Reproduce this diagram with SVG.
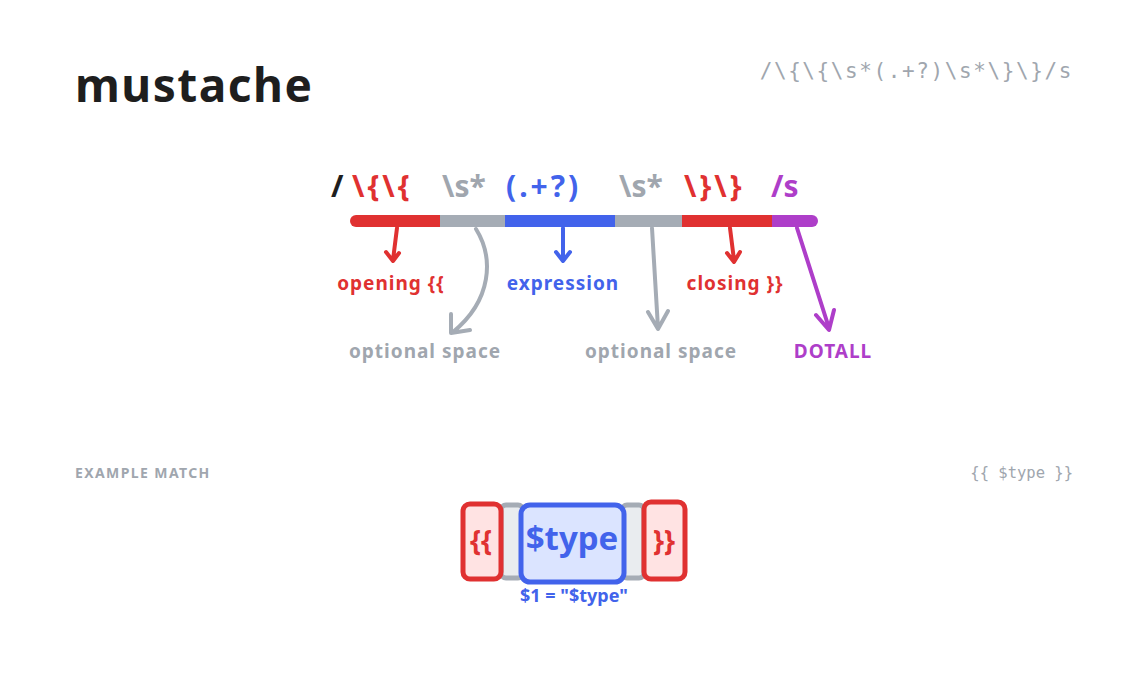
<svg xmlns="http://www.w3.org/2000/svg" width="1148" height="676" viewBox="0 0 1148 676">
<style>
.hand{font-family:"Noto Sans","Liberation Sans",sans-serif;font-weight:700}
.mono{font-family:"DejaVu Sans Mono","Liberation Mono",monospace;fill:#a0a6ae}
.tok{font-size:30px}
.lbl{font-size:19px;text-anchor:middle;letter-spacing:1px}
.red{fill:#e03131}.redS{stroke:#e03131}
.gray{fill:#a0a6ae}.grayS{stroke:#a5acb5}
.blue{fill:#4263eb}.blueS{stroke:#4263eb}
.purp{fill:#ae3ec9}.purpS{stroke:#ae3ec9}
.bar{stroke-width:12;stroke-linecap:butt;fill:none}
.end{stroke-linecap:round}
.arr{stroke-width:4;stroke-linecap:round;stroke-linejoin:round;fill:none}
.box{stroke-width:5;stroke-linejoin:round}
</style>
<rect width="1148" height="676" fill="#ffffff"/>
<g id="title">
<text class="hand" x="75" y="102" font-size="46" letter-spacing="1.5" fill="#1e1e1e">mustache</text>
<text class="mono" x="1073" y="78" font-size="21" letter-spacing="1.6" text-anchor="end">/\{\{\s*(.+?)\s*\}\}/s</text>
</g>
<g id="tokens">
<text class="hand tok" x="331" y="197" fill="#1e1e1e">/</text>
<text class="hand tok red" x="352" y="197" letter-spacing="3">\{\{</text>
<text class="hand tok gray" x="442" y="197">\s*</text>
<text class="hand tok blue" x="506" y="197" letter-spacing="3">(.+?)</text>
<text class="hand tok gray" x="619" y="197">\s*</text>
<text class="hand tok red" x="684" y="197" letter-spacing="3">\}\}</text>
<text class="hand tok purp" x="771" y="197">/s</text>
</g>
<g id="bar">
<line class="bar end redS" x1="356" y1="221" x2="440" y2="221"/>
<line class="bar end purpS" x1="772" y1="221" x2="812" y2="221"/>
<line class="bar grayS" x1="440" y1="221" x2="505" y2="221"/>
<line class="bar blueS" x1="505" y1="221" x2="615" y2="221"/>
<line class="bar grayS" x1="615" y1="221" x2="682" y2="221"/>
<line class="bar redS" x1="682" y1="221" x2="772" y2="221"/>
</g>
<g id="connectors">
<path class="arr redS" d="M397 228 L393 260 M386 252 L393 261 L399 253"/>
<path class="arr grayS" d="M476 229 C494 258 492 300 453 332 M451 314 L451 333 L470 330"/>
<path class="arr blueS" d="M563 228 L563 260 M556 252 L563 261 L570 252"/>
<path class="arr grayS" d="M652 228 L658 328 M648 312 L658 329 L668 311"/>
<path class="arr redS" d="M730 228 L734 260 M727 253 L734 262 L740 252"/>
<path class="arr purpS" d="M797 228 L829 328 M816 315 L829 330 L834 310"/>
</g>
<g id="labels">
<text class="hand lbl red" x="391" y="290">opening {{</text>
<text class="hand lbl blue" x="563" y="290">expression</text>
<text class="hand lbl red" x="735" y="290">closing }}</text>
<text class="hand lbl gray" x="425" y="358" letter-spacing="1.3">optional space</text>
<text class="hand lbl gray" x="661" y="358" letter-spacing="1.3">optional space</text>
<text class="hand lbl purp" x="833" y="358" font-size="16">DOTALL</text>
</g>
<g id="example">
<text class="hand gray" x="75" y="478" font-size="14" letter-spacing="1.4">EXAMPLE MATCH</text>
<text class="mono" x="1073" y="478" font-size="15.5" text-anchor="end">{{ $type }}</text>
</g>
<g id="match">
<rect class="box" x="501" y="505" width="22" height="73" rx="5" fill="#e9ecef" stroke="#a5acb5"/>
<rect class="box" x="622" y="505" width="22" height="73" rx="5" fill="#e9ecef" stroke="#a5acb5"/>
<rect class="box" x="463" y="504" width="38" height="75" rx="7" fill="#ffe3e3" stroke="#e03131"/>
<rect class="box" x="644" y="502" width="41" height="77" rx="7" fill="#ffe3e3" stroke="#e03131"/>
<rect class="box" x="521" y="505" width="103" height="77" rx="9" fill="#dbe4ff" stroke="#4263eb"/>
<text class="hand red" x="481" y="551" font-size="28" text-anchor="middle">{{</text>
<text class="hand blue" x="572" y="550" font-size="33" text-anchor="middle">$type</text>
<text class="hand red" x="664" y="551" font-size="28" text-anchor="middle">}}</text>
<text class="hand blue" x="574" y="602" font-size="18" text-anchor="middle">$1 = "$type"</text>
</g>
</svg>
